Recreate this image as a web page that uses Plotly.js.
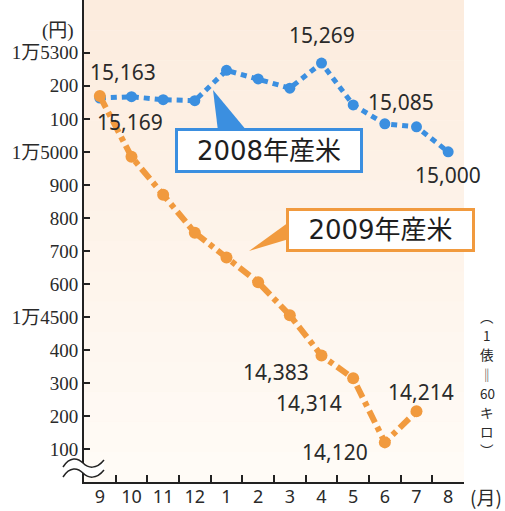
<!DOCTYPE html>
<html>
<head>
<meta charset="utf-8">
<script src="https://cdn.plot.ly/plotly-3.0.1.min.js"></script>
<style>
  html, body { margin: 0; padding: 0; background: #ffffff; }
  #chart { width: 505px; height: 511px; }
</style>
</head>
<body>
<div id="chart"></div>
<script>
// ---- data ----
const months = ['9', '10', '11', '12', '1', '2', '3', '4', '5', '6', '7', '8'];
const rice2008 = [15163, 15167, 15158, 15155, 15247, 15221, 15193, 15269, 15142, 15085, 15076, 15000];
const rice2009 = [15169, 14985, 14870, 14755, 14680, 14605, 14505, 14383, 14314, 14120, 14214, null];
const yTickVals = [14100, 14200, 14300, 14400, 14500, 14600, 14700, 14800, 14900, 15000, 15100, 15200, 15300];
const yTickText = ['100', '200', '300', '400', '1万4500', '600', '700', '800', '900', '1万5000', '100', '200', '1万5300'];
const seriesNames = ['2008年産米', '2009年産米'];
const labeled2008 = [0, 7, 9, 11];
const labeled2009 = [0, 7, 8, 9, 10];
const unitNote = ['︵', '1', '俵', '‖', '60', 'キ', 'ロ', '︶'];

(function () {
// ---- styles / positions ----
const BLUE = '#3b8fe0';
const ORANGE = '#f19a3e';
const M = { l: 84, r: 41, t: 0, b: 29 };
const PW = 505 - M.l - M.r, PH = 511 - M.t - M.b;
const px = x => (x - M.l) / PW;
const py = y => 1 - (y - M.t) / PH;
const off2008 = { 0: [23, 26], 7: [0, 28], 9: [16, 22], 11: [0, -23] };
const off2009 = { 0: [30, -26], 7: [-46, -16], 8: [-44, -25], 9: [-50, -10], 10: [4, 19] };
const fmt = v => v.toLocaleString('en-US');
const numFont = { family: 'Noto Sans, DejaVu Sans, sans-serif', size: 21, color: '#2a2a2a' };

const traces = [
  {
    x: months, y: rice2008, name: seriesNames[0], type: 'scatter', mode: 'lines+markers',
    line: { color: BLUE, width: 5, dash: '6px,5px' },
    marker: { color: BLUE, size: 11 }, cliponaxis: false
  },
  {
    x: months, y: rice2009, name: seriesNames[1], type: 'scatter', mode: 'lines+markers',
    line: { color: ORANGE, width: 6, dash: '13px,5px,5px,5px' },
    marker: { color: ORANGE, size: 12 }, cliponaxis: false
  }
];

const annotations = [];
// category axis: position labels by category index
labeled2008.forEach(i => annotations.push({
  x: i, y: rice2008[i], xref: 'x', yref: 'y', text: fmt(rice2008[i]),
  showarrow: false, xshift: off2008[i][0], yshift: off2008[i][1], font: numFont,
  xanchor: 'center', yanchor: 'middle'
}));
labeled2009.forEach(i => annotations.push({
  x: i, y: rice2009[i], xref: 'x', yref: 'y', text: fmt(rice2009[i]),
  showarrow: false, xshift: off2009[i][0], yshift: off2009[i][1], font: numFont,
  xanchor: 'center', yanchor: 'middle'
}));
// legend callout boxes
const boxFont = { family: 'DejaVu Sans, Noto Sans CJK JP, sans-serif', size: 26, color: '#1e1e1e' };
annotations.push({
  x: px(269), y: py(150.5), xref: 'paper', yref: 'paper', text: seriesNames[0], showarrow: false,
  width: 182, height: 39, bgcolor: '#ffffff', bordercolor: BLUE, borderwidth: 3, borderpad: 0,
  font: boxFont, xanchor: 'center', yanchor: 'middle'
});
annotations.push({
  x: px(380.5), y: py(230), xref: 'paper', yref: 'paper', text: seriesNames[1], showarrow: false,
  width: 183, height: 38, bgcolor: '#ffffff', bordercolor: ORANGE, borderwidth: 3, borderpad: 0,
  font: boxFont, xanchor: 'center', yanchor: 'middle'
});
// unit labels
annotations.push({
  x: px(58), y: py(31), xref: 'paper', yref: 'paper', text: '(円)', showarrow: false,
  xanchor: 'center', yanchor: 'middle',
  font: { family: 'Liberation Serif, Noto Sans CJK JP, serif', size: 19, color: '#2a2a2a' }
});
annotations.push({
  x: px(486), y: py(497), xref: 'paper', yref: 'paper', text: '(月)', showarrow: false,
  xanchor: 'center', yanchor: 'middle',
  font: { family: 'Noto Sans CJK JP, sans-serif', size: 19, color: '#2a2a2a' }
});
unitNote.forEach((t, k) => annotations.push({
  x: px(487), y: py(316 + 19.2 * k), xref: 'paper', yref: 'paper', text: t, showarrow: false,
  xanchor: 'center', yanchor: 'middle',
  font: { family: 'Noto Sans CJK JP, sans-serif', size: 13.5, color: '#2a2a2a' }
}));

// background gradient bands
const shapes = [];
const cTop = [252, 236, 222], cBot = [255, 251, 246];
const N = 16;
for (let k = 0; k < N; k++) {
  const t = k / (N - 1);
  const c = cTop.map((v, j) => Math.round(cBot[j] + (v - cBot[j]) * t));
  shapes.push({
    type: 'rect', xref: 'paper', yref: 'paper', x0: 0, x1: 1, y0: k / N, y1: (k + 1) / N,
    fillcolor: `rgb(${c[0]},${c[1]},${c[2]})`, line: { width: 0 }, layer: 'below'
  });
}
// callout pointers
const poly = pts => 'M' + pts.map(p => px(p[0]) + ',' + py(p[1])).join(' L') + ' Z';
shapes.push({ type: 'path', xref: 'paper', yref: 'paper', path: poly([[213, 90], [218, 131], [247, 131]]),
  fillcolor: BLUE, line: { width: 0 }, layer: 'above' });
shapes.push({ type: 'path', xref: 'paper', yref: 'paper', path: poly([[249, 251], [289, 222], [289, 239]]),
  fillcolor: ORANGE, line: { width: 0 }, layer: 'above' });
// axis break marks
const curve = (pts) => 'M' + px(pts[0][0]) + ',' + py(pts[0][1]) +
  ' C' + pts.slice(1, 4).map(p => px(p[0]) + ',' + py(p[1])).join(' ') +
  ' C' + pts.slice(4, 7).map(p => px(p[0]) + ',' + py(p[1])).join(' ');
const w1 = [[63, 467], [70, 456], [78, 458], [83, 463], [88, 468], [96, 470], [104, 460]];
const w2 = w1.map(p => [p[0], p[1] + 10]);
const fillPath = curve(w1) + ' L' + px(104) + ',' + py(470) + ' C' +
  [[96, 480], [88, 478], [83, 473]].map(p => px(p[0]) + ',' + py(p[1])).join(' ') + ' C' +
  [[78, 468], [70, 466], [63, 477]].map(p => px(p[0]) + ',' + py(p[1])).join(' ') + ' Z';
shapes.push({ type: 'path', xref: 'paper', yref: 'paper', path: fillPath, fillcolor: '#ffffff', line: { width: 0 }, layer: 'above' });
shapes.push({ type: 'path', xref: 'paper', yref: 'paper', path: curve(w1), line: { color: '#222', width: 1.5 }, layer: 'above' });
shapes.push({ type: 'path', xref: 'paper', yref: 'paper', path: curve(w2), line: { color: '#222', width: 1.5 }, layer: 'above' });

const layout = {
  width: 505, height: 511,
  margin: { l: M.l, r: M.r, t: M.t, b: M.b, pad: 0 },
  paper_bgcolor: '#ffffff', plot_bgcolor: '#fef6ee',
  showlegend: false,
  xaxis: {
    type: 'category', range: [-0.5, 11.5], tickson: 'boundaries', tickangle: 0,
    ticks: 'inside', ticklen: 7, tickwidth: 2, tickcolor: '#222', ticklabelstandoff: -3,
    showline: true, linecolor: '#222', linewidth: 2, showgrid: false, zeroline: false,
    automargin: false,
    tickfont: { family: 'Noto Sans, sans-serif', size: 18, color: '#2a2a2a' }
  },
  yaxis: {
    range: [14000, 15460], tickmode: 'array', tickvals: yTickVals, ticktext: yTickText,
    ticks: 'inside', ticklen: 6, tickwidth: 2, tickcolor: '#222',
    showline: true, linecolor: '#222', linewidth: 2, showgrid: false, zeroline: false,
    automargin: false,
    tickfont: { family: 'Liberation Serif, Noto Sans CJK JP, serif', size: 19, color: '#2a2a2a' }
  },
  annotations: annotations,
  shapes: shapes
};

Plotly.newPlot('chart', traces, layout, { displayModeBar: false, staticPlot: true });
})();
</script>
</body>
</html>
